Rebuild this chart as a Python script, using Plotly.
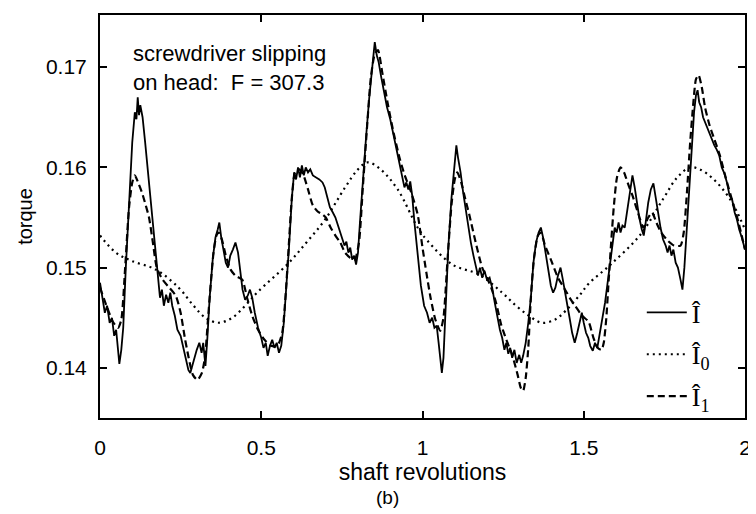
import plotly.graph_objects as go

# ---- data ----
solid_x = [0.000,0.008,0.015,0.022,0.030,0.037,0.044,0.050,0.056,0.060,0.066,0.072,0.080,0.090,0.100,0.108,0.113,0.117,0.121,0.125,
           0.132,0.140,0.150,0.160,0.170,0.180,0.186,0.192,0.198,0.205,0.212,0.218,0.224,0.232,0.240,0.250,0.258,0.266,0.274,0.280,
           0.286,0.293,0.300,0.308,0.315,0.320,0.327,0.333,0.340,0.350,0.358,0.365,0.370,0.376,0.383,0.390,0.397,0.404,0.412,0.420,
           0.428,0.435,0.442,0.450,0.458,0.465,0.472,0.480,0.490,0.500,0.507,0.514,0.520,0.527,0.534,0.541,0.548,0.555,0.562,0.570,
           0.578,0.586,0.595,0.602,0.608,0.614,0.620,0.626,0.632,0.638,0.645,0.652,0.660,0.670,0.680,0.690,0.697,0.705,0.713,0.722,
           0.730,0.738,0.746,0.752,0.758,0.764,0.770,0.776,0.782,0.788,0.794,0.800,0.806,0.815,0.825,0.835,0.845,0.852,0.858,0.864,
           0.872,0.880,0.890,0.900,0.910,0.920,0.930,0.938,0.944,0.950,0.956,0.962,0.968,0.975,0.985,0.995,1.005,1.014,1.022,1.030,
           1.037,1.044,1.050,1.056,1.060,1.065,1.072,1.080,1.090,1.098,1.105,1.110,1.118,1.126,1.134,1.142,1.150,1.158,1.165,1.172,
           1.178,1.185,1.192,1.200,1.208,1.216,1.224,1.232,1.240,1.247,1.254,1.260,1.266,1.272,1.278,1.285,1.292,1.300,1.306,1.312,
           1.320,1.328,1.336,1.344,1.352,1.360,1.367,1.374,1.382,1.390,1.398,1.405,1.412,1.420,1.428,1.434,1.440,1.448,1.456,1.464,
           1.472,1.480,1.488,1.494,1.500,1.507,1.514,1.520,1.528,1.535,1.542,1.550,1.558,1.566,1.574,1.582,1.590,1.596,1.602,1.608,
           1.614,1.620,1.627,1.634,1.642,1.651,1.658,1.665,1.672,1.680,1.686,1.692,1.700,1.708,1.716,1.722,1.730,1.738,1.746,1.754,
           1.760,1.766,1.772,1.778,1.785,1.792,1.800,1.806,1.812,1.818,1.826,1.834,1.842,1.848,1.853,1.858,1.864,1.870,1.876,1.883,
           1.890,1.898,1.905,1.912,1.920,1.928,1.936,1.944,1.952,1.960,1.968,1.975,1.982,1.990,2.000]
solid_y = [0.1485,0.1470,0.1455,0.1462,0.1445,0.1450,0.1432,0.1438,0.1415,0.1404,0.1418,0.1440,0.1500,0.1570,0.1625,0.1655,0.1648,0.1670,0.1652,0.1662,
           0.1650,0.1625,0.1592,0.1560,0.1528,0.1495,0.1470,0.1478,0.1462,0.1473,0.1465,0.1475,0.1462,0.1452,0.1438,0.1432,0.1420,0.1408,0.1398,0.1395,
           0.1402,0.1412,0.1418,0.1425,0.1415,0.1425,0.1402,0.1430,0.1470,0.1510,0.1530,0.1538,0.1545,0.1530,0.1515,0.1505,0.1500,0.1512,0.1518,0.1525,
           0.1515,0.1495,0.1478,0.1468,0.1472,0.1478,0.1470,0.1455,0.1440,0.1430,0.1420,0.1425,0.1412,0.1422,0.1428,0.1420,0.1425,0.1415,0.1422,0.1445,
           0.1480,0.1520,0.1570,0.1595,0.1588,0.1600,0.1590,0.1602,0.1592,0.1600,0.1595,0.1598,0.1592,0.1590,0.1588,0.1585,0.1580,0.1570,0.1560,0.1555,
           0.1550,0.1542,0.1535,0.1528,0.1522,0.1526,0.1515,0.1520,0.1508,0.1512,0.1503,0.1515,0.1545,0.1590,0.1630,0.1670,0.1705,0.1725,0.1712,0.1705,
           0.1690,0.1675,0.1660,0.1648,0.1632,0.1618,0.1600,0.1588,0.1580,0.1585,0.1578,0.1586,0.1572,0.1545,0.1510,0.1482,0.1462,0.1455,0.1445,0.1450,
           0.1440,0.1442,0.1425,0.1405,0.1395,0.1410,0.1460,0.1520,0.1570,0.1600,0.1622,0.1610,0.1595,0.1575,0.1558,0.1540,0.1525,0.1512,0.1500,0.1492,
           0.1500,0.1490,0.1497,0.1488,0.1490,0.1480,0.1465,0.1450,0.1438,0.1430,0.1418,0.1425,0.1414,0.1420,0.1410,0.1418,0.1405,0.1413,0.1405,0.1412,
           0.1425,0.1445,0.1470,0.1505,0.1525,0.1535,0.1540,0.1530,0.1515,0.1498,0.1482,0.1475,0.1480,0.1492,0.1500,0.1490,0.1478,0.1465,0.1450,0.1435,
           0.1425,0.1435,0.1448,0.1455,0.1445,0.1435,0.1430,0.1422,0.1417,0.1425,0.1420,0.1435,0.1450,0.1465,0.1485,0.1505,0.1530,0.1540,0.1535,0.1545,
           0.1535,0.1542,0.1540,0.1555,0.1575,0.1592,0.1580,0.1565,0.1550,0.1538,0.1532,0.1545,0.1565,0.1578,0.1584,0.1572,0.1555,0.1540,0.1528,0.1522,
           0.1515,0.1522,0.1512,0.1518,0.1505,0.1500,0.1488,0.1478,0.1500,0.1530,0.1580,0.1620,0.1655,0.1672,0.1677,0.1665,0.1660,0.1650,0.1645,0.1640,
           0.1635,0.1628,0.1622,0.1618,0.1612,0.1600,0.1594,0.1585,0.1572,0.1568,0.1555,0.1548,0.1538,0.1530,0.1518]

dotted_x = [0.000,0.049,0.096,0.173,0.244,0.290,0.327,0.367,0.410,0.450,0.490,0.583,0.640,0.698,0.760,0.800,0.830,0.870,0.923,0.985,
            1.015,1.093,1.176,1.247,1.290,1.330,1.370,1.410,1.444,1.491,1.515,1.583,1.676,1.747,1.790,1.830,1.860,1.900,1.954,2.000]
dotted_y = [0.1532,0.1515,0.1507,0.1498,0.1480,0.1462,0.1450,0.1445,0.1450,0.1462,0.1476,0.1504,0.1525,0.1548,0.1580,0.1598,0.1605,0.1598,0.1578,0.1540,
            0.1527,0.1503,0.1493,0.1475,0.1462,0.1452,0.1445,0.1448,0.1457,0.1474,0.1484,0.1503,0.1533,0.1569,0.1590,0.1600,0.1598,0.1589,0.1568,0.1538]

dashed_x = [0.000,0.020,0.040,0.056,0.066,0.078,0.090,0.100,0.108,0.118,0.130,0.142,0.152,0.164,0.176,0.194,0.215,0.235,0.250,0.263,
            0.275,0.288,0.302,0.316,0.326,0.334,0.343,0.352,0.361,0.368,0.378,0.390,0.405,0.420,0.441,0.456,0.472,0.490,0.510,0.530,
            0.550,0.565,0.575,0.585,0.595,0.605,0.618,0.630,0.645,0.660,0.675,0.690,0.700,0.715,0.730,0.745,0.760,0.775,0.790,0.803,
            0.815,0.828,0.840,0.852,0.862,0.875,0.892,0.910,0.930,0.945,0.965,0.985,1.000,1.012,1.025,1.040,1.055,1.065,1.078,1.090,
            1.100,1.108,1.120,1.133,1.145,1.165,1.185,1.200,1.213,1.228,1.244,1.260,1.278,1.295,1.305,1.312,1.320,1.328,1.336,1.346,
            1.358,1.367,1.380,1.398,1.420,1.444,1.460,1.475,1.495,1.515,1.530,1.543,1.555,1.562,1.570,1.577,1.585,1.593,1.603,1.614,
            1.625,1.638,1.651,1.668,1.685,1.700,1.712,1.725,1.740,1.760,1.780,1.800,1.810,1.820,1.830,1.840,1.848,1.856,1.866,1.876,
            1.890,1.905,1.922,1.940,1.963,1.980,2.000]
dashed_y = [0.1480,0.1462,0.1446,0.1440,0.1448,0.1500,0.1560,0.1585,0.1592,0.1585,0.1575,0.1562,0.1550,0.1525,0.1500,0.1488,0.1480,0.1472,0.1455,0.1430,
            0.1410,0.1393,0.1388,0.1395,0.1412,0.1445,0.1482,0.1515,0.1532,0.1535,0.1528,0.1512,0.1498,0.1492,0.1488,0.1470,0.1452,0.1438,0.1428,0.1422,
            0.1422,0.1435,0.1470,0.1520,0.1570,0.1595,0.1598,0.1593,0.1578,0.1562,0.1556,0.1553,0.1550,0.1540,0.1532,0.1525,0.1515,0.1510,0.1508,0.1525,
            0.1580,0.1640,0.1690,0.1713,0.1717,0.1695,0.1664,0.1635,0.1608,0.1592,0.1575,0.1553,0.1520,0.1495,0.1470,0.1448,0.1437,0.1450,0.1510,0.1563,
            0.1588,0.1595,0.1585,0.1568,0.1553,0.1525,0.1500,0.1490,0.1480,0.1465,0.1443,0.1428,0.1413,0.1393,0.1380,0.1377,0.1390,0.1420,0.1470,0.1510,
            0.1532,0.1535,0.1522,0.1508,0.1490,0.1477,0.1468,0.1461,0.1452,0.1446,0.1430,0.1420,0.1418,0.1425,0.1450,0.1486,0.1525,0.1560,0.1590,0.1600,
            0.1595,0.1583,0.1572,0.1555,0.1540,0.1550,0.1555,0.1545,0.1535,0.1527,0.1522,0.1522,0.1535,0.1575,0.1625,0.1665,0.1688,0.1692,0.1680,0.1660,
            0.1642,0.1628,0.1612,0.1590,0.1564,0.1545,0.1518]

x_ticks = [0, 0.5, 1, 1.5, 2]
x_tick_labels = ["0", "0.5", "1", "1.5", "2"]
y_ticks = [0.14, 0.15, 0.16, 0.17]
y_tick_labels = ["0.14", "0.15", "0.16", "0.17"]

legend_names = ["Î", "Î<sub>0</sub>", "Î<sub>1</sub>"]

FONT = "Liberation Sans, Arial, Helvetica, sans-serif"

fig = go.Figure()
fig.add_trace(go.Scatter(x=solid_x, y=solid_y, mode="lines", name=legend_names[0], legendgroup="a",
                         line=dict(color="black", width=1.8)))
fig.add_trace(go.Scatter(x=dotted_x, y=dotted_y, mode="lines", name=legend_names[1], legendgroup="b",
                         line=dict(color="black", width=2.2, dash="2px,4px", shape="spline", smoothing=1.0)))
fig.add_trace(go.Scatter(x=dashed_x, y=dashed_y, mode="lines", name=legend_names[2], legendgroup="c",
                         line=dict(color="black", width=2.2, dash="7px,4px", shape="spline", smoothing=0.6)))

axis_common = dict(showgrid=False, zeroline=False, showline=True, linecolor="black", linewidth=2,
                   mirror="ticks", ticks="inside", ticklen=7, tickwidth=1.5, tickcolor="black",
                   tickfont=dict(family=FONT, size=21, color="black"))

fig.update_xaxes(range=[0, 2], tickvals=x_ticks, ticktext=x_tick_labels, ticklabelstandoff=10,
                 title=dict(text="shaft revolutions", font=dict(family=FONT, size=23, color="black"), standoff=0),
                 **axis_common)
fig.update_yaxes(range=[0.135, 0.1752], tickvals=y_ticks, ticktext=y_tick_labels, ticklabelstandoff=7,
                 title=dict(text="torque", font=dict(family=FONT, size=20, color="black"), standoff=8),
                 **axis_common)

fig.add_annotation(text="screwdriver slipping<br>on head:  F = 307.3", xref="paper", yref="paper",
                   x=0.048, y=0.94, xanchor="left", yanchor="top", showarrow=False, align="left",
                   font=dict(family=FONT, size=22, color="black"))
fig.add_annotation(text="(b)", xref="paper", yref="paper", x=0.445, y=-0.1985, xanchor="center", yanchor="middle",
                   showarrow=False, font=dict(family=FONT, size=19, color="black"))

fig.update_layout(
    width=748, height=506,
    margin=dict(l=92, r=5, t=7, b=96),
    paper_bgcolor="white", plot_bgcolor="white",
    showlegend=True,
    legend=dict(x=0.84, y=0.32, xanchor="left", yanchor="top", bgcolor="rgba(0,0,0,0)",
                font=dict(family="Liberation Serif, Times New Roman, serif", size=26, color="black"),
                itemwidth=40, tracegroupgap=5),
)

fig.write_html("out.html")
